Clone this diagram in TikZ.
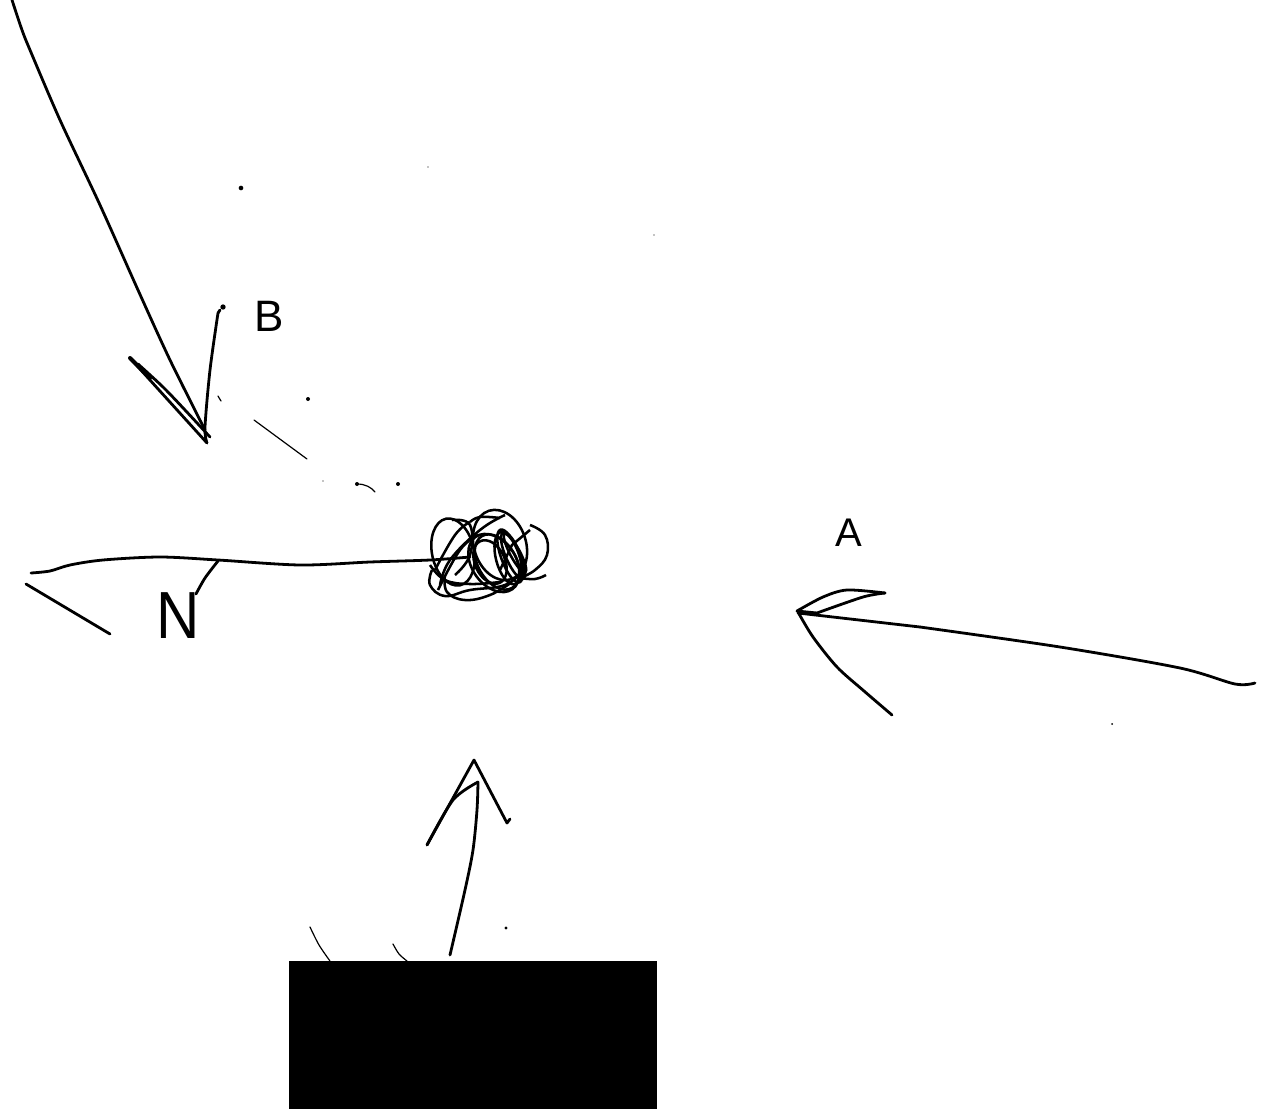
\documentclass[tikz,border=0pt]{standalone}
\usepackage{fontspec}
\setmainfont{Liberation Sans}
\tikzset{
  pen/.style={line width=2.1pt,line cap=round,line join=round,black},
  fine/.style={line width=0.9pt,line cap=round,black},
  scrib/.style={line width=1.9pt,black},
  speck/.style={circle,fill=black,inner sep=0pt}
}
\newcommand{\stroke}[2][pen]{\draw[#1] plot[smooth,tension=0.5] coordinates {#2};}
\begin{document}
\begin{tikzpicture}[x=0.75pt,y=-0.75pt]
\useasboundingbox (0,0) rectangle (1263,1114);
% top-left arrow
\stroke{(12,0)(22,30)(30,50)(60,120)(100,205)(138,290)(170,360)(205,430)}
\draw[pen] (130,358)--(207,443);
\stroke{(138,364)(163,387)(185,410)(210,437)}
\draw[line width=3pt,line cap=round] (130,358)--(150,378);
\stroke{(207,443)(205,427)(210,370)(218,313)}
\draw[pen] (218,313)--(220,310);
\node[speck,minimum size=4pt] (d1) at (223,307) {};
\node[font=\fontsize{33pt}{33pt}\selectfont] (labelB) at (269,316) {B};
% specks
\node[speck,minimum size=3.5pt] (d2) at (241,188) {};
\node[speck,minimum size=1pt] (d3) at (428,167) {};
\node[speck,minimum size=1pt] (d4) at (654,235) {};
\node[speck,minimum size=1.5pt] (d5) at (1112,724) {};
\node[speck,minimum size=2.5pt] (d6) at (506,928) {};
\node[speck,minimum size=3pt] (d7) at (308,399) {};
\node[speck,minimum size=1pt] (d8) at (323,481) {};
\node[speck,minimum size=3pt] (d9) at (357,484) {};
\node[speck,minimum size=3pt] (d10) at (398,484) {};
\draw[fine] (218,396)--(221,401);
\draw[fine] (254,420)--(307,459);
\draw[fine] (357,484) .. controls (365,484) and (371,487) .. (375,492);
% left arrow
\stroke{(31,573)(50,571)(70,565)(103,560)(160,557)(218,560)(300,565)(370,562)(430,560)(470,557)}
\draw[pen] (26,584)--(110,634);
\node[font=\fontsize{50pt}{50pt}\selectfont,xscale=0.9] (labelN) at (178,616) {N};
\stroke{(196,594)(205,578)(218,561)}
% right arrow
\stroke{(920,627)(1060,647)(1180,668)(1235,684)(1255,683)}
\draw[pen] (920,627)--(798,613);
\stroke{(885,593)(847,590)(823,597)(797,611)}
\stroke{(885,593)(863,597)(817,613)}
\draw[pen] (797,611)--(817,613);
\stroke{(798,612)(813,637)(837,667)(864,691)(892,715)}
\node[font=\fontsize{30pt}{30pt}\selectfont] (labelA) at (849,533) {A};
% bottom arrow
\stroke{(450,955)(465,890)(473,850)(477,810)(478,782)}
\stroke{(478,782)(453,800)(427,845)}
\draw[pen] (427,845)--(474,760)--(507,823)--(510,819);
\draw[fine] plot[smooth] coordinates {(310,927)(319,945)(330,961)};
\draw[fine] plot[smooth] coordinates {(393,944)(399,954)(407,961)};
\fill[black] (289,961) rectangle (657,1109);
% scribble
\begin{scope}[scrib]
\draw[rotate around={12:(453,552)}] (453,552) ellipse[x radius=21,y radius=34];
\draw[rotate around={18:(500,545)}] (500,545) ellipse[x radius=26,y radius=36];
\draw[rotate around={25:(490,562)}] (490,562) ellipse[x radius=15,y radius=23];
\draw[rotate around={35:(494,563)}] (494,563) ellipse[x radius=22,y radius=32];
\draw[rotate around={30:(497,562)}] (497,562) ellipse[x radius=19,y radius=30];
\draw[rotate around={20:(510,556)}] (510,556) ellipse[x radius=9,y radius=28];
\draw[rotate around={24:(513,556)}] (513,556) ellipse[x radius=7,y radius=25];
\draw[rotate around={15:(508,558)}] (508,558) ellipse[x radius=12,y radius=27];
\draw[rotate around={28:(515,553)}] (515,553) ellipse[x radius=5,y radius=22];
\draw plot[smooth,tension=0.7] coordinates {(432,570)(430,585)(445,596)(470,590)(505,585)(523,570)};
\draw plot[smooth,tension=0.7] coordinates {(445,575)(447,592)(465,600)(490,595)(512,582)};
\draw plot[smooth,tension=0.7] coordinates {(430,565)(445,580)(470,584)(500,582)};
\draw plot[smooth,tension=0.7] coordinates {(440,585)(450,560)(480,530)(505,515)};
\draw plot[smooth,tension=0.7] coordinates {(435,570)(455,535)(470,522)};
\draw plot[smooth,tension=0.7] coordinates {(438,590)(460,550)(478,535)};
\draw plot[smooth,tension=0.7] coordinates {(452,520)(470,525)(470,555)(455,575)};
\draw plot[smooth,tension=0.7] coordinates {(470,522)(480,517)(500,518)};
\draw plot[smooth,tension=0.7] coordinates {(530,525)(545,535)(547,555)(535,570)(520,578)};
\draw plot[smooth,tension=0.7] coordinates {(520,578)(535,579)(546,575)};
\draw (530,530)--(512,545)--(500,570);
\end{scope}
\end{tikzpicture}
\end{document}
